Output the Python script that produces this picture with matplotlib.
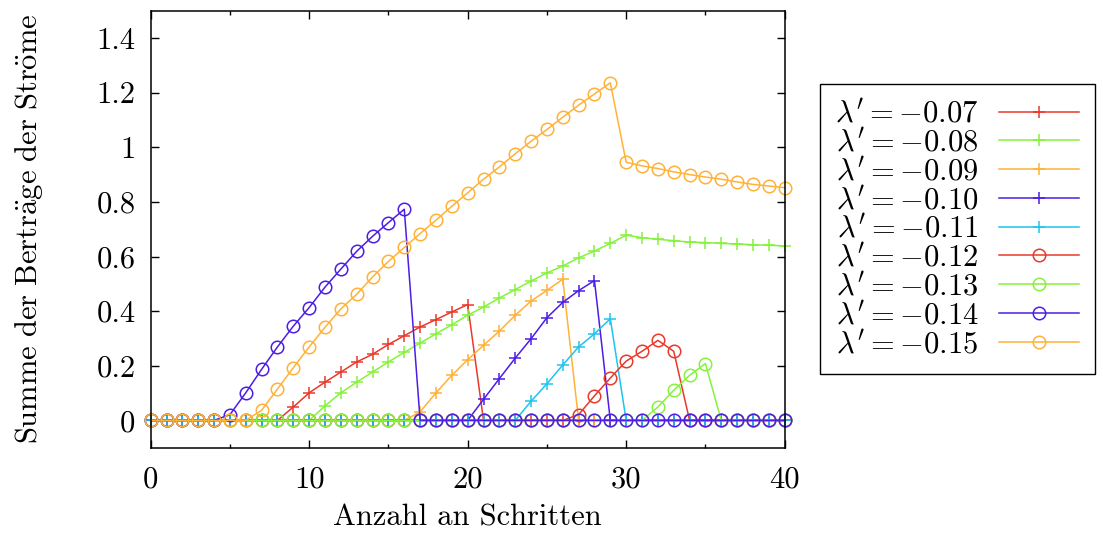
import matplotlib
matplotlib.use("Agg")
import matplotlib.pyplot as plt
from matplotlib.ticker import MultipleLocator

plt.rcParams["font.family"] = "serif"
plt.rcParams["font.serif"] = ["cmr10"]
plt.rcParams["mathtext.fontset"] = "cm"
plt.rcParams["axes.formatter.use_mathtext"] = True
plt.rcParams["font.size"] = 22

#data
steps = list(range(41))

lam_labels = ["-0.07", "-0.08", "-0.09", "-0.10", "-0.11",
              "-0.12", "-0.13", "-0.14", "-0.15"]

s007 = [0] * 9 + [0.049, 0.101, 0.140, 0.177, 0.214, 0.242, 0.278, 0.310,
                  0.342, 0.369, 0.397, 0.424] + [0] * 20
s008 = [0] * 11 + [0.053, 0.101, 0.140, 0.177, 0.214, 0.249, 0.283, 0.317,
                   0.350, 0.385, 0.415, 0.448, 0.479, 0.510, 0.540, 0.565,
                   0.595, 0.620, 0.648, 0.678, 0.669, 0.663, 0.658, 0.653,
                   0.651, 0.648, 0.646, 0.643, 0.641, 0.639]
s009 = [0] * 17 + [0.031, 0.101, 0.165, 0.222, 0.275, 0.327, 0.385, 0.437,
                   0.476, 0.517] + [0] * 14
s010 = [0] * 21 + [0.077, 0.153, 0.228, 0.299, 0.376, 0.432, 0.475,
                   0.512] + [0] * 12
s011 = [0] * 24 + [0.070, 0.134, 0.203, 0.269, 0.317, 0.372] + [0] * 11
s012 = [0] * 27 + [0.021, 0.090, 0.155, 0.217, 0.253, 0.293, 0.253] + [0] * 7
s013 = [0] * 32 + [0.049, 0.110, 0.165, 0.208] + [0] * 5
s014 = [0] * 5 + [0.021, 0.101, 0.187, 0.269, 0.345, 0.413, 0.488, 0.554,
                  0.619, 0.674, 0.724, 0.773] + [0] * 24
s015 = [0] * 7 + [0.037, 0.115, 0.193, 0.269, 0.341, 0.408, 0.462, 0.525,
                  0.582, 0.633, 0.684, 0.733, 0.784, 0.833, 0.883, 0.928,
                  0.976, 1.022, 1.065, 1.110, 1.154, 1.195, 1.236, 0.945,
                  0.932, 0.922, 0.910, 0.900, 0.891, 0.883, 0.873, 0.864,
                  0.858, 0.852]

series = [s007, s008, s009, s010, s011, s012, s013, s014, s015]

yticks = [0, 0.2, 0.4, 0.6, 0.8, 1.0, 1.2, 1.4]
ytick_labels = ["0", "0.2", "0.4", "0.6", "0.8", "1", "1.2", "1.4"]
xticks = [0, 10, 20, 30, 40]
xtick_labels = ["0", "10", "20", "30", "40"]

red = "#e8392b"
green = "#86f23e"
orange = "#ffb238"
blue = "#4c1ee4"
cyan = "#1ec4ee"
colors = [red, green, orange, blue, cyan, red, green, blue, orange]
markers = ["+"] * 5 + ["o"] * 4

fig = plt.figure(figsize=(11.03, 5.34), dpi=100)
ax = fig.add_axes([0.1366, 0.1616, 0.5748, 0.8184])

for vals, lab, col, mk in zip(series, lam_labels, colors, markers):
    ax.plot(steps, vals, color=col, marker=mk, markersize=9,
            markerfacecolor="none", markeredgewidth=1.1, linewidth=1.1,
            clip_on=False, label=r"$\lambda' = " + lab + "$")

ax.set_xlim(0, 40)
ax.set_ylim(-0.1, 1.5)
ax.set_xticks(xticks)
ax.set_xticklabels(xtick_labels)
ax.set_yticks(yticks)
ax.set_yticklabels(ytick_labels)
ax.xaxis.set_minor_locator(MultipleLocator(5))
ax.tick_params(which="both", direction="in", top=True, right=True, width=1)
ax.tick_params(which="major", length=6)
ax.tick_params(which="minor", length=3)
ax.tick_params(axis="x", pad=13)
ax.tick_params(axis="y", pad=11)
for sp in ax.spines.values():
    sp.set_linewidth(1.1)

fig.text(0.424, 0.03, "Anzahl an Schritten", ha="center", va="center")
fig.text(0.026, 0.571,
         r"$\mathrm{Summe\ der\ Bertr\ddot{a}ge\ der\ Str\ddot{o}me}$",
         rotation=90, ha="center", va="center")

leg = ax.legend(loc="center left", bbox_to_anchor=(820 / 1103, 1 - 229 / 534),
                bbox_transform=fig.transFigure, markerfirst=False,
                handlelength=2.65, handletextpad=0.65, labelspacing=0.0,
                borderpad=0.5, borderaxespad=0, fancybox=False,
                edgecolor="black", framealpha=1)
leg.get_frame().set_linewidth(1.0)

plt.savefig("out.png", dpi=100)
